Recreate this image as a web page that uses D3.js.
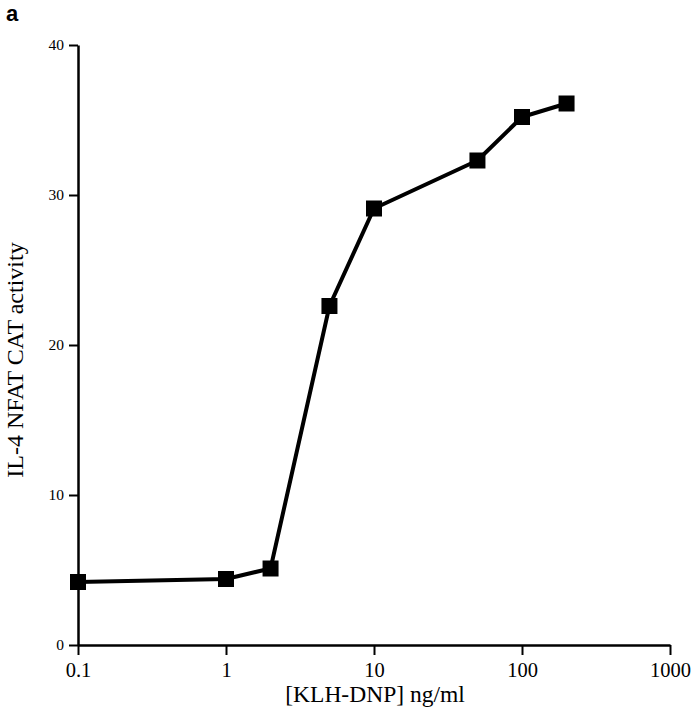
<!DOCTYPE html>
<html>
<head>
<meta charset="utf-8">
<script src="https://cdn.jsdelivr.net/npm/d3@7"></script>
<style>
  body { margin: 0; background: #fff; }
  svg { display: block; font-family: "Liberation Serif", "DejaVu Serif", serif; }
</style>
</head>
<body>
<svg id="chart" width="694" height="720"></svg>
<script>
// data
const dose = [0.1, 1, 2, 5, 10, 50, 100, 200];
const activity = [4.2, 4.4, 5.1, 22.6, 29.1, 32.3, 35.2, 36.1];
const xTicks = [0.1, 1, 10, 100, 1000];
const yTicks = [0, 10, 20, 30, 40];

let svg = d3.select("#chart");

let x = d3.scaleLog().domain([0.1, 1000]).range([78, 670]);
let y = d3.scaleLinear().domain([0, 40]).range([645, 45]);

// panel letter
svg.append("text")
    .attr("x", 6).attr("y", 21)
    .attr("font-family", "Liberation Sans, Arial, sans-serif")
    .attr("font-weight", "bold")
    .attr("font-size", 22)
    .text("a");

// axes
let xAxis = svg.append("g")
    .attr("transform", `translate(0,${y(0)})`)
    .call(d3.axisBottom(x).tickValues(xTicks).tickFormat(d => d).tickSize(10).tickSizeOuter(0));
xAxis.select(".domain").attr("stroke-width", 2.5);
xAxis.selectAll(".tick line").attr("stroke-width", 2);
xAxis.selectAll("text")
    .attr("font-family", "Liberation Serif, serif")
    .attr("font-size", 20.5)
    .attr("y", 32)
    .attr("dy", null)
    .attr("fill", "#000");

let yAxis = svg.append("g")
    .attr("transform", `translate(${x(0.1)},0)`)
    .call(d3.axisLeft(y).tickValues(yTicks).tickSize(9).tickSizeOuter(0));
yAxis.select(".domain").attr("stroke-width", 2.5);
yAxis.selectAll(".tick line").attr("stroke-width", 2);
yAxis.selectAll("text")
    .attr("font-family", "Liberation Serif, serif")
    .attr("font-size", 15.5)
    .attr("x", -14)
    .attr("fill", "#000");

// axis titles
svg.append("text")
    .attr("x", 375).attr("y", 702)
    .attr("text-anchor", "middle")
    .attr("font-size", 23.5)
    .text("[KLH-DNP] ng/ml");

svg.append("text")
    .attr("transform", `translate(23,360) rotate(-90)`)
    .attr("text-anchor", "middle")
    .attr("font-size", 24)
    .text("IL-4 NFAT CAT activity");

// line + markers
let line = d3.line()
    .x((d, i) => x(dose[i]))
    .y(d => y(d));

svg.append("path")
    .datum(activity)
    .attr("d", line)
    .attr("fill", "none")
    .attr("stroke", "#000")
    .attr("stroke-width", 4)
    .attr("stroke-linejoin", "round");

let s = 16;
svg.selectAll("rect.pt")
    .data(activity)
    .enter()
    .append("rect")
    .attr("class", "pt")
    .attr("x", (d, i) => x(dose[i]) - s / 2)
    .attr("y", d => y(d) - s / 2)
    .attr("width", s)
    .attr("height", s)
    .attr("fill", "#000");
</script>
</body>
</html>
